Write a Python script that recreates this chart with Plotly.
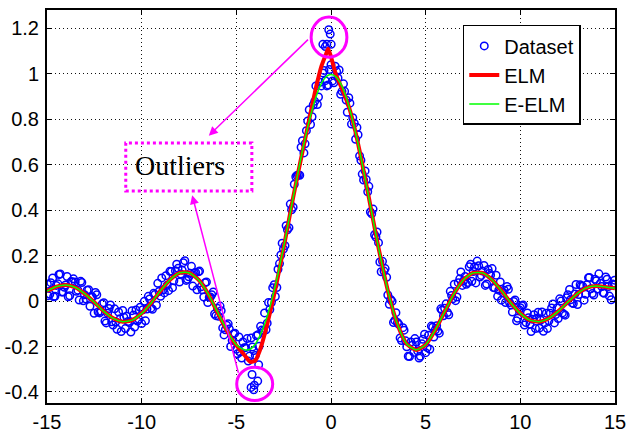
import plotly.graph_objects as go

# ---------------- data ----------------
data_x = [
    # pass 1
    -14.98, -14.85, -14.70, -14.58, -14.42, -14.30, -14.15, -14.02, -13.88, -13.72,
    -13.60, -13.45, -13.30, -13.16, -13.02, -12.88, -12.73, -12.60, -12.44, -12.30,
    -12.15, -12.00, -11.87, -11.72, -11.58, -11.43, -11.30, -11.14, -11.00, -10.86,
    -10.72, -10.57, -10.43, -10.30, -10.15, -10.00, -9.86, -9.72, -9.58, -9.43,
    -9.30, -9.15, -9.00, -8.86, -8.72, -8.58, -8.43, -8.30, -8.15, -8.00,
    -7.86, -7.72, -7.58, -7.44, -7.30, -7.15, -7.00, -6.86, -6.72, -6.58,
    -6.43, -6.30, -6.15, -6.00, -5.86, -5.72, -5.58, -5.43, -5.30, -5.15,
    -5.00, -4.86, -4.72, -4.58, -4.43, -4.30, -4.15, -4.00, -3.86, -3.72,
    -3.58, -3.43, -3.30, -3.15, -3.00, -2.86, -2.72, -2.58, -2.43, -2.30,
    -2.15, -2.00, -1.86, -1.72, -1.58, -1.43, -1.30, -1.15, -1.00, -0.86,
    -0.72, -0.58, -0.43, -0.30, -0.15, 0.00,
    0.08, 0.22, 0.37, 0.51, 0.66, 0.80, 0.94, 1.08, 1.23, 1.37,
    1.51, 1.65, 1.80, 1.94, 2.08, 2.22, 2.37, 2.51, 2.65, 2.80,
    2.94, 3.08, 3.23, 3.37, 3.51, 3.65, 3.80, 3.94, 4.08, 4.22,
    4.37, 4.51, 4.65, 4.80, 4.94, 5.08, 5.22, 5.37, 5.51, 5.65,
    5.80, 5.94, 6.08, 6.22, 6.37, 6.51, 6.65, 6.80, 6.94, 7.08,
    7.22, 7.37, 7.51, 7.65, 7.80, 7.94, 8.08, 8.22, 8.37, 8.51,
    8.65, 8.80, 8.94, 9.08, 9.22, 9.37, 9.51, 9.65, 9.80, 9.94,
    10.08, 10.22, 10.37, 10.51, 10.65, 10.80, 10.94, 11.08, 11.22, 11.37,
    11.51, 11.65, 11.80, 11.94, 12.08, 12.22, 12.37, 12.51, 12.65, 12.80,
    12.94, 13.08, 13.22, 13.37, 13.51, 13.65, 13.80, 13.94, 14.08, 14.22,
    14.37, 14.51, 14.65, 14.80, 14.94, 15.00,
    # pass 2
    -0.08, -0.22, -0.37, -0.51, -0.66, -0.80, -0.94, -1.08, -1.23, -1.37,
    -1.51, -1.65, -1.80, -1.94, -2.08, -2.22, -2.37, -2.51, -2.65, -2.80,
    -2.94, -3.08, -3.23, -3.37, -3.51, -3.65, -3.80, -3.94, -4.08, -4.22,
    -4.37, -4.51, -4.65, -4.80, -4.94, -5.08, -5.22, -5.37, -5.51, -5.65,
    -5.80, -5.94, -6.08, -6.22, -6.37, -6.51, -6.65, -6.80, -6.94, -7.08,
    -7.22, -7.37, -7.51, -7.65, -7.80, -7.94, -8.08, -8.22, -8.37, -8.51,
    -8.65, -8.80, -8.94, -9.08, -9.22, -9.37, -9.51, -9.65, -9.80, -9.94,
    -10.08, -10.22, -10.37, -10.51, -10.65, -10.80, -10.94, -11.08, -11.22, -11.37,
    -11.51, -11.65, -11.80, -11.94, -12.08, -12.22, -12.37, -12.51, -12.65, -12.80,
    -12.94, -13.08, -13.22, -13.37, -13.51, -13.65, -13.80, -13.94, -14.08, -14.22,
    -14.37, -14.51, -14.65, -14.80, -14.94,
    0.15, 0.30, 0.43, 0.58, 0.72, 0.86, 1.00, 1.15, 1.30, 1.43,
    1.58, 1.72, 1.86, 2.00, 2.15, 2.30, 2.43, 2.58, 2.72, 2.86,
    3.00, 3.15, 3.30, 3.43, 3.58, 3.72, 3.86, 4.00, 4.15, 4.30,
    4.43, 4.58, 4.72, 4.86, 5.00, 5.15, 5.30, 5.43, 5.58, 5.72,
    5.86, 6.00, 6.15, 6.30, 6.43, 6.58, 6.72, 6.86, 7.00, 7.15,
    7.30, 7.44, 7.58, 7.72, 7.86, 8.00, 8.15, 8.30, 8.43, 8.58,
    8.72, 8.86, 9.00, 9.15, 9.30, 9.43, 9.58, 9.72, 9.86, 10.00,
    10.15, 10.30, 10.43, 10.57, 10.72, 10.86, 11.00, 11.14, 11.30, 11.43,
    11.58, 11.72, 11.87, 12.00, 12.15, 12.30, 12.44, 12.60, 12.73, 12.88,
    13.02, 13.16, 13.30, 13.45, 13.60, 13.72, 13.88, 14.02, 14.15, 14.30,
    14.42, 14.58, 14.70, 14.85, 14.98,
    # outliers
    -0.12, -0.04, -0.43, -0.22, 0.01, -0.30,
    -4.17, -3.87, -4.05, -4.22, -4.08, -3.82,
]
data_y = [
    # pass 1
    0.074, 0.030, 0.102, 0.021, 0.076, 0.119, 0.040, 0.071, 0.019, 0.086,
    0.098, 0.043, 0.005, 0.082, 0.028, 0.048, -0.023, 0.018, 0.038, -0.048,
    -0.045, -0.007, -0.096, -0.033, -0.091, -0.034, -0.124, -0.078, -0.041, -0.121,
    -0.090, -0.136, -0.061, -0.039, -0.080, -0.099, -0.001, -0.035, 0.009, -0.036,
    0.029, 0.078, 0.021, 0.050, 0.112, 0.046, 0.130, 0.089, 0.162, 0.084,
    0.136, 0.178, 0.096, 0.122, 0.066, 0.126, 0.129, 0.063, 0.018, 0.084,
    0.017, 0.028, -0.057, -0.032, -0.022, -0.118, -0.126, -0.100, -0.200, -0.145,
    -0.212, -0.158, -0.251, -0.205, -0.165, -0.242, -0.202, -0.239, -0.148, -0.111,
    -0.132, -0.126, -0.006, -0.006, 0.072, 0.060, 0.165, 0.255, 0.244, 0.314,
    0.427, 0.413, 0.547, 0.555, 0.677, 0.652, 0.750, 0.842, 0.811, 0.879,
    0.865, 0.963, 1.004, 0.970, 0.951, 1.040,
    0.969, 1.034, 0.982, 0.910, 0.956, 0.885, 0.895, 0.779, 0.783, 0.764,
    0.639, 0.559, 0.573, 0.481, 0.392, 0.405, 0.282, 0.257, 0.129, 0.132,
    0.105, -0.014, -0.001, -0.085, -0.094, -0.162, -0.117, -0.175, -0.243, -0.180,
    -0.226, -0.180, -0.251, -0.188, -0.146, -0.205, -0.212, -0.115, -0.126, -0.132,
    -0.034, -0.065, -0.012, -0.060, 0.025, 0.074, 0.018, 0.098, 0.069, 0.108,
    0.082, 0.162, 0.130, 0.080, 0.155, 0.113, 0.157, 0.075, 0.122, 0.143,
    0.058, 0.021, 0.084, 0.037, -0.006, 0.052, -0.017, -0.002, -0.087, -0.038,
    -0.020, -0.105, -0.052, -0.102, -0.080, -0.121, -0.049, -0.084, -0.133, -0.053,
    -0.087, -0.030, -0.096, -0.030, 0.010, -0.052, -0.062, 0.028, 0.006, -0.011,
    0.073, 0.029, 0.067, 0.004, 0.072, 0.104, 0.033, 0.096, 0.053, 0.078,
    0.037, 0.106, 0.064, 0.006, 0.074, 0.073,
    # pass 2
    1.019, 0.947, 1.015, 0.947, 0.898, 0.947, 0.863, 0.777, 0.793, 0.692,
    0.706, 0.554, 0.553, 0.514, 0.402, 0.323, 0.332, 0.229, 0.203, 0.140,
    0.020, 0.059, -0.037, -0.097, -0.052, -0.127, -0.199, -0.152, -0.218, -0.163,
    -0.264, -0.205, -0.180, -0.224, -0.232, -0.141, -0.173, -0.123, -0.106, -0.149,
    -0.042, -0.067, -0.064, 0.040, 0.018, -0.006, 0.081, 0.050, 0.132, 0.050,
    0.124, 0.153, 0.107, 0.091, 0.169, 0.119, 0.144, 0.133, 0.059, 0.131,
    0.070, 0.036, 0.102, 0.042, -0.018, 0.034, -0.031, 0.021, -0.087, -0.038,
    -0.027, -0.088, -0.114, -0.042, -0.094, -0.067, -0.071, -0.134, -0.048, -0.091,
    -0.105, -0.017, -0.053, -0.088, -0.012, -0.052, 0.028, -0.054, 0.018, 0.050,
    0.009, 0.001, 0.087, 0.048, 0.084, 0.084, 0.023, 0.108, 0.061, 0.040,
    0.117, 0.069, 0.019, 0.081, 0.024,
    0.961, 1.010, 1.017, 0.923, 0.923, 0.831, 0.871, 0.807, 0.712, 0.732,
    0.620, 0.533, 0.535, 0.505, 0.384, 0.292, 0.304, 0.172, 0.175, 0.143,
    0.027, 0.007, -0.094, -0.051, -0.102, -0.174, -0.128, -0.201, -0.244, -0.194,
    -0.165, -0.220, -0.243, -0.168, -0.227, -0.150, -0.110, -0.158, -0.108, -0.141,
    -0.040, -0.032, -0.050, 0.043, 0.010, 0.002, 0.081, 0.128, 0.089, 0.074,
    0.151, 0.087, 0.151, 0.176, 0.106, 0.132, 0.069, 0.139, 0.115, 0.060,
    0.114, 0.048, 0.004, 0.048, 0.064, -0.006, -0.048, 0.005, -0.076, -0.029,
    -0.017, -0.094, -0.073, -0.134, -0.060, -0.076, -0.119, -0.048, -0.096, -0.121,
    -0.053, -0.013, -0.059, -0.077, 0.000, -0.058, 0.015, 0.051, -0.008, 0.031,
    -0.015, 0.072, 0.065, 0.030, 0.103, 0.054, 0.027, 0.089, 0.120, 0.064,
    0.034, 0.096, 0.022, 0.075, 0.092,
    # outliers
    1.194, 1.175, 1.130, 1.130, 1.130, 1.120,
    -0.323, -0.352, -0.370, -0.380, -0.390, -0.280,
]

curve_x = [
    -15, -14.5, -14, -13.5, -13, -12.5, -12, -11.5, -11, -10.5, -10, -9.5, -9, -8.5, -8, -7.5, -7, -6.5,
    -6, -5.75, -5.5, -5.25, -5, -4.75, -4.5, -4.25, -4, -3.75, -3.5, -3.25, -3, -2.75, -2.5, -2.25,
    -2, -1.75, -1.5, -1.25, -1, -0.75, -0.5, -0.25, -0.15, 0, 0.25, 0.5, 0.75, 1, 1.25, 1.5, 1.75, 2, 2.25, 2.5,
    3, 3.5, 4, 4.5, 5, 5.5, 6, 6.5, 7, 7.5, 8, 8.5, 9, 9.5, 10, 10.5, 11, 11.5, 12, 12.5, 13, 13.5, 14, 14.5, 15,
]
elm_y = [
    0.044, 0.064, 0.071, 0.060, 0.032, -0.005, -0.045, -0.076, -0.091, -0.084, -0.054, -0.008, 0.046, 0.094, 0.124, 0.125, 0.094, 0.033,
    -0.050, -0.090, -0.130, -0.165, -0.195, -0.220, -0.245, -0.268, -0.262, -0.215, -0.145, -0.060, 0.030, 0.130, 0.235, 0.345,
    0.455, 0.560, 0.660, 0.760, 0.860, 0.955, 1.035, 1.090, 1.110, 1.075, 1.000, 0.950, 0.900, 0.840, 0.760, 0.665, 0.562, 0.455, 0.346, 0.239,
    0.047, -0.100, -0.189, -0.215, -0.192, -0.128, -0.047, 0.033, 0.094, 0.124, 0.124, 0.094, 0.046, -0.008, -0.054, -0.084, -0.091, -0.076, -0.045, -0.005, 0.032, 0.058, 0.066, 0.062, 0.056,
]
eelm_y = [
    0.044, 0.064, 0.071, 0.060, 0.032, -0.005, -0.045, -0.076, -0.091, -0.084, -0.054, -0.008, 0.046, 0.094, 0.124, 0.125, 0.094, 0.033,
    -0.047, -0.088, -0.128, -0.164, -0.192, -0.208, -0.215, -0.211, -0.190, -0.152, -0.100, -0.033, 0.047, 0.139, 0.239, 0.346,
    0.455, 0.562, 0.665, 0.759, 0.841, 0.909, 0.959, 0.988, 0.994, 0.997, 0.988, 0.959, 0.909, 0.841, 0.759, 0.665, 0.562, 0.455, 0.346, 0.239,
    0.047, -0.100, -0.189, -0.215, -0.192, -0.128, -0.047, 0.033, 0.094, 0.124, 0.124, 0.094, 0.046, -0.008, -0.054, -0.084, -0.091, -0.076, -0.045, -0.005, 0.032, 0.058, 0.066, 0.062, 0.056,
]

x_tickvals = [-15, -10, -5, 0, 5, 10, 15]
x_ticktext = ["-15", "-10", "-5", "0", "5", "10", "15"]
y_tickvals = [-0.4, -0.2, 0, 0.2, 0.4, 0.6, 0.8, 1.0, 1.2]
y_ticktext = ["-0.4", "-0.2", "0", "0.2", "0.4", "0.6", "0.8", "1", "1.2"]

series_names = ["Dataset", "ELM", "E-ELM"]
annotation_label = "Outliers"

# ---------------- figure ----------------
MAGENTA = "#ff00ff"
FONT = "Arial, 'Liberation Sans', Helvetica, sans-serif"

fig = go.Figure()
fig.add_trace(go.Scatter(
    x=data_x, y=data_y, mode="markers", name=series_names[0],
    marker=dict(symbol="circle-open", size=7.5, color="#0000ff", line=dict(width=1.5, color="#0000ff")),
))
fig.add_trace(go.Scatter(
    x=curve_x, y=elm_y, mode="lines", name=series_names[1],
    line=dict(color="#ff0000", width=4, shape="spline", smoothing=0.6),
))
fig.add_trace(go.Scatter(
    x=curve_x, y=eelm_y, mode="lines", name=series_names[2],
    line=dict(color="#00ff00", width=1.5, shape="spline", smoothing=0.6),
))

axis_common = dict(
    showline=True, linecolor="black", linewidth=2, mirror="ticks",
    ticks="inside", ticklen=5, tickwidth=1, tickcolor="black",
    showgrid=True, gridcolor="#111111", gridwidth=1, griddash="1px,3px",
    zeroline=False, automargin=False,
    tickfont=dict(family=FONT, size=20, color="black"),
)
fig.update_xaxes(range=[-15, 15], tickvals=x_tickvals, ticktext=x_ticktext,
                 ticklabelstandoff=0, **axis_common)
fig.update_yaxes(range=[-0.4485, 1.281], tickvals=y_tickvals, ticktext=y_ticktext,
                 ticklabelstandoff=2, **axis_common)

# circles around outliers
fig.add_shape(type="circle", xref="x", yref="y", x0=-1.05, x1=0.84, y0=1.073, y1=1.25,
              line=dict(color=MAGENTA, width=3))
fig.add_shape(type="circle", xref="x", yref="y", x0=-4.98, x1=-3.08, y0=-0.438, y1=-0.291,
              line=dict(color=MAGENTA, width=3))
# dotted box around the label
fig.add_shape(type="rect", xref="x", yref="y", x0=-10.84, x1=-4.18, y0=0.485, y1=0.696,
              line=dict(color=MAGENTA, width=3, dash="dot"), fillcolor="rgba(0,0,0,0)")

fig.add_annotation(x=-7.95, y=0.598, xref="x", yref="y", text=annotation_label, showarrow=False,
                   font=dict(family="'Times New Roman', 'Liberation Serif', serif", size=28, color="black"))
# arrows
fig.add_annotation(x=-6.455, y=0.728, ax=-1.136, ay=1.157, xref="x", yref="y", axref="x", ayref="y",
                   text="", showarrow=True, arrowhead=2, arrowsize=1.2, arrowwidth=1.5, arrowcolor=MAGENTA)
fig.add_annotation(x=-7.332, y=0.466, ax=-4.871, ay=-0.322, xref="x", yref="y", axref="x", ayref="y",
                   text="", showarrow=True, arrowhead=2, arrowsize=1.2, arrowwidth=1.5, arrowcolor=MAGENTA)

fig.update_layout(
    width=627, height=432,
    margin=dict(l=47, r=12, t=10, b=29, autoexpand=False),
    paper_bgcolor="white", plot_bgcolor="white",
    showlegend=True,
    legend=dict(x=0.732, y=0.962, xanchor="left", yanchor="top",
                bgcolor="white", bordercolor="black", borderwidth=1.5,
                font=dict(family=FONT, size=20, color="black"),
                tracegroupgap=0, itemsizing="trace"),
)

fig.write_html("out.html")
